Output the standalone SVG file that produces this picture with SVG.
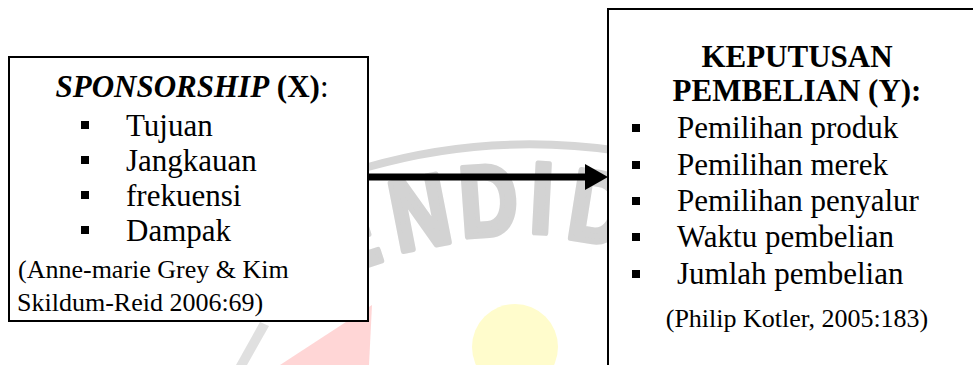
<svg xmlns="http://www.w3.org/2000/svg" width="973" height="365" viewBox="0 0 973 365">
<style>
.box{fill:#fff;stroke:#000;stroke-width:2}
.t{font-family:"Liberation Serif","Times New Roman",serif;fill:#000}
.item{font-size:31px}
.head{font-size:31px;font-weight:bold}
.cite{font-size:26px}
.bul{fill:#000}
.wm{font-family:"Liberation Sans",Arial,sans-serif;font-weight:bold;font-size:100px;fill:#d3d3d3;stroke:#d3d3d3;stroke-width:6;stroke-linejoin:round}
</style>
<rect width="973" height="365" fill="#fff"/>
<g id="watermark">
<circle cx="515" cy="347" r="43" fill="#fffccc"/>
<polygon points="280,365 372,305 369,365" fill="#ffd6d6"/>
<path d="M236,365 L260,322 L269,326 L247,365 Z" fill="#e0e0e0"/>
<path d="M368,167 Q490,132 620,151" fill="none" stroke="#d6d6d6" stroke-width="8"/>
<text class="wm" transform="translate(334,276) rotate(-18) scale(0.8,1)">E</text>
<text class="wm" transform="translate(398,252) rotate(-11) scale(0.8,1)">N</text>
<text class="wm" transform="translate(462,237) rotate(-4) scale(0.8,1)">D</text>
<text class="wm" transform="translate(529,232) rotate(3) scale(0.8,1)">I</text>
<text class="wm" transform="translate(565,237) rotate(9) scale(0.8,1)">D</text>
</g>
<g id="node-sponsorship">
<rect class="box" x="9" y="57" width="359" height="264"/>
<text class="t head" x="192" y="97" text-anchor="middle"><tspan font-style="italic">SPONSORSHIP</tspan> (X)<tspan font-weight="normal">:</tspan></text>
<rect class="bul" x="81" y="121" width="8" height="8"/>
<text class="t item" x="126" y="136">Tujuan</text>
<rect class="bul" x="81" y="156" width="8" height="8"/>
<text class="t item" x="126" y="171">Jangkauan</text>
<rect class="bul" x="81" y="191" width="8" height="8"/>
<text class="t item" x="126" y="206">frekuensi</text>
<rect class="bul" x="81" y="226" width="8" height="8"/>
<text class="t item" x="126" y="241">Dampak</text>
<text class="t cite" x="18" y="278">(Anne-marie Grey &amp; Kim</text>
<text class="t cite" x="17" y="311">Skildum-Reid 2006:69)</text>
</g>
<g id="node-keputusan">
<rect class="box" x="608" y="9" width="380" height="380"/>
<text class="t head" x="797" y="67" text-anchor="middle">KEPUTUSAN</text>
<text class="t head" x="797" y="101" text-anchor="middle">PEMBELIAN (Y):</text>
<rect class="bul" x="632" y="124" width="8" height="8"/>
<text class="t item" x="677" y="138">Pemilihan produk</text>
<rect class="bul" x="632" y="161" width="8" height="8"/>
<text class="t item" x="677" y="175">Pemilihan merek</text>
<rect class="bul" x="632" y="197" width="8" height="8"/>
<text class="t item" x="677" y="211">Pemilihan penyalur</text>
<rect class="bul" x="632" y="233" width="8" height="8"/>
<text class="t item" x="677" y="247">Waktu pembelian</text>
<rect class="bul" x="632" y="270" width="8" height="8"/>
<text class="t item" x="677" y="284">Jumlah pembelian</text>
<text class="t cite" x="797" y="327" text-anchor="middle">(Philip Kotler, 2005:183)</text>
</g>
<g id="connectors">
<line x1="368" y1="177" x2="588" y2="177" stroke="#000" stroke-width="7"/>
<polygon points="585,164 608,177 585,190" fill="#000"/>
</g>
</svg>
